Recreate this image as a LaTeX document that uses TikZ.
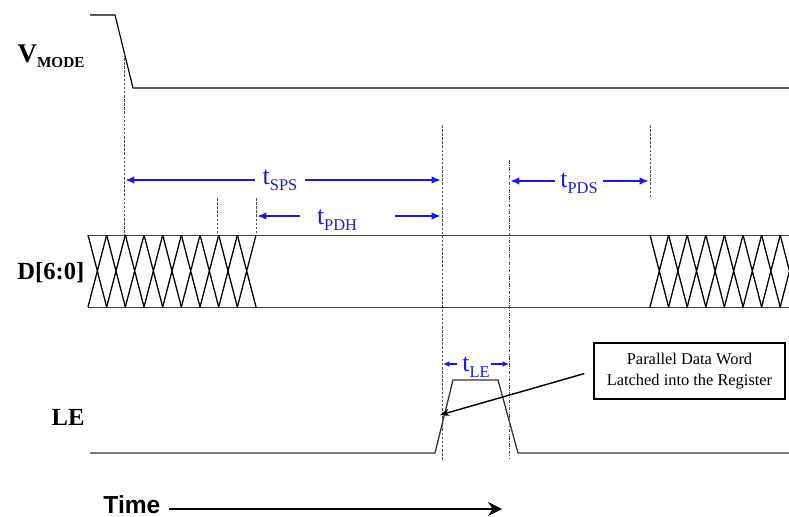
\documentclass[tikz,border=0pt]{standalone}
\usepackage{fontspec}
\setmainfont{Liberation Serif}
\newfontfamily\timefont{Liberation Sans}
\usetikzlibrary{arrows.meta}
\definecolor{tblue}{RGB}{25,25,235}
\newcommand{\tname}[1]{t\raisebox{-5pt}{\fontsize{14}{14}\selectfont #1}}

\begin{document}
\begin{tikzpicture}[x=0.03cm,y=-0.03cm,line width=1pt,
  signame/.style={anchor=base east,inner sep=0pt,font=\bfseries\fontsize{21}{22}\selectfont},
  guide/.style={black!70,line width=.6pt,dash pattern=on 2.2pt off 1.3pt},
  guidedd/.style={black!70,line width=.6pt,dash pattern=on 3pt off 1.2pt on .8pt off 1.2pt},
  bus/.style={black!75,line width=.8pt},
  tarrow/.style={tblue,line width=1.6pt,-{Latex[length=8pt,width=6.5pt]}},
  tlabel/.style={tblue,inner sep=0pt,font=\fontsize{22}{23}\selectfont}]
\useasboundingbox (0,0) rectangle (789,517);
% signal names
\node[signame] (vmode) at (85,63) {{\fontsize{23}{24}\selectfont V}\raisebox{-4pt}{\fontsize{13}{13}\selectfont MODE}};
\node[signame] (data) at (85,280) {D[6:0]};
\node[signame] (le) at (85,425) {LE};
% waveforms
\draw (90,15) -- (115,15) -- (133,88) -- (789,88);
\draw[bus] (88,235) -- (789,235) (88,307) -- (789,307);
\foreach \i [evaluate=\i as \xa using 88+18.67*\i] in {0,...,8}
  \draw[line width=1.1pt] (\xa,235) -- (\xa+18.67,307) (\xa,307) -- (\xa+18.67,235);
\begin{scope}
\clip (645,230) rectangle (789,312);
\foreach \i [evaluate=\i as \xa using 650+18.6*\i] in {0,...,7}
  \draw[line width=1.1pt] (\xa,235) -- (\xa+18.6,307) (\xa,307) -- (\xa+18.6,235);
\end{scope}
\draw[black!80,line width=1.1pt] (90,453) -- (435,453) -- (453,380) -- (498,380) -- (518,453) -- (789,453);
% guide lines
\foreach \x/\ya/\yb in {124.5/54/235, 217/198/235, 256/198/235, 442/125/460, 650/125/197}
  \draw[guide] (\x,\ya) -- (\x,\yb);
\draw[guidedd] (509,160) -- (509,458);
% timing parameters
\node[tlabel] (sps) at (280,180) {\tname{SPS}};
\node[tlabel] (pdh) at (337,220) {\tname{PDH}};
\node[tlabel] (pds) at (579,183) {\tname{PDS}};
\node[tlabel] (tle) at (476,367) {\tname{LE}};
\coordinate (spsA) at (255,180); \coordinate (spsL) at (125,180);
\coordinate (spsB) at (305,180); \coordinate (spsR) at (441,180);
\coordinate (pdhA) at (300,216); \coordinate (pdhL) at (257,216);
\coordinate (pdhB) at (395,216); \coordinate (pdhR) at (441,216);
\coordinate (pdsA) at (555,181); \coordinate (pdsL) at (510,181);
\coordinate (pdsB) at (603,181); \coordinate (pdsR) at (649,181);
\draw[tarrow] (spsA) -- (spsL); \draw[tarrow] (spsB) -- (spsR);
\draw[tarrow] (pdhA) -- (pdhL); \draw[tarrow] (pdhB) -- (pdhR);
\draw[tarrow] (pdsA) -- (pdsL); \draw[tarrow] (pdsB) -- (pdsR);
\coordinate (leA) at (457,364); \coordinate (leL) at (443,364);
\coordinate (leB) at (491,364); \coordinate (leR) at (509,364);
\draw[tarrow,line width=1.2pt,-{Latex[length=5.5pt,width=5pt]}] (leA) -- (leL);
\draw[tarrow,line width=1.2pt,-{Latex[length=5.5pt,width=5pt]}] (leB) -- (leR);
% latch note
\node[draw,line width=1.3pt,align=center,inner sep=0pt,minimum width=5.73cm,minimum height=1.68cm,
  font=\fontsize{14}{17.5}\selectfont] (latch) at (689.5,371) {Parallel Data Word\\Latched into the Register};
\coordinate (edge) at (440,415);
\draw[-{Stealth[length=8pt,width=6pt]},line width=1.2pt,shorten <=8pt] (latch.west) -- (edge);
% time axis
\node[anchor=base east,inner sep=0pt,font=\timefont\bfseries\fontsize{21}{22}\selectfont] (time) at (161,513) {Time};
\coordinate (tEnd) at (502,509);
\draw[-{Stealth[length=12pt,width=12pt,inset=4pt]},line width=1.4pt,shorten <=7pt] (time.east |- tEnd) -- (tEnd);
\end{tikzpicture}
\end{document}
